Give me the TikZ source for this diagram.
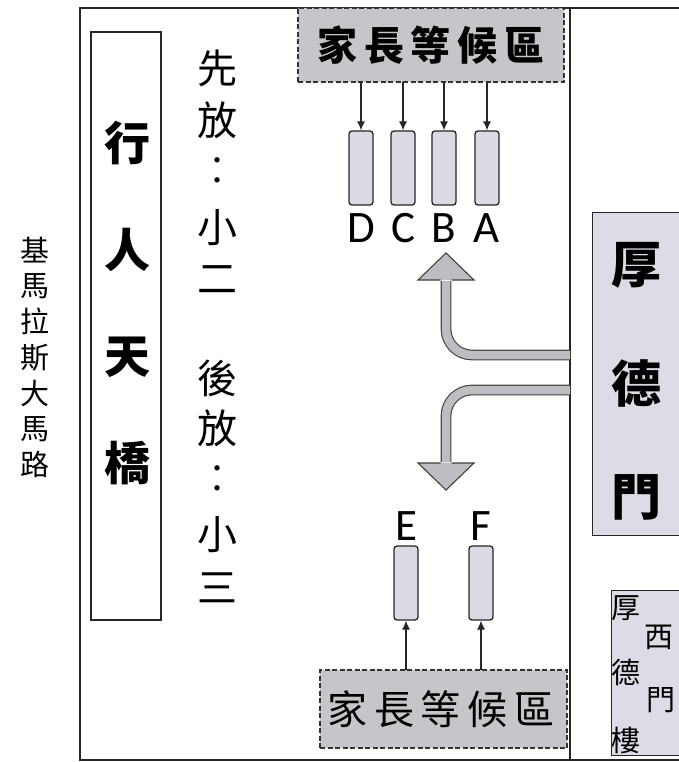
\documentclass[tikz,border=0pt]{standalone}
\usepackage{fontspec}
\newfontfamily\cjk{Noto Sans CJK TC}
\newfontfamily\lat{Carlito}
\definecolor{boxgray}{HTML}{C6C6CA}
\definecolor{barfill}{HTML}{DADAE4}
\definecolor{gatefill}{HTML}{DCDCE6}
\definecolor{arrowgray}{HTML}{BDBDC2}
\tikzset{
  frameline/.style={line width=1.4pt, draw=black!85},
  waitbox/.style={draw=black!80, dash pattern=on 5pt off 2.5pt, line width=1.4pt, fill=boxgray},
  bar/.style={draw=black!85, line width=1.3pt, fill=barfill, rounded corners=3pt, minimum width=24pt, minimum height=74pt, inner sep=0pt},
  thinarrow/.style={-{Latex[length=9pt,width=8pt]}, line width=1.1pt, draw=black!85},
  shaft/.style={draw=black!75, line width=1.1pt, double=arrowgray, double distance=8.5pt, rounded corners=26pt},
  headfill/.style={fill=arrowgray},
  headline/.style={draw=black!75, line width=1.1pt, line join=miter},
  ch/.style={inner sep=0pt, font=\cjk\fontsize{40}{40}\selectfont},
  bigch/.style={inner sep=0pt, font=\cjk\bfseries\fontsize{46}{46}\selectfont},
  roadch/.style={inner sep=0pt, font=\cjk\fontsize{29}{29}\selectfont},
  gatech/.style={inner sep=0pt, font=\cjk\bfseries\fontsize{50}{50}\selectfont},
  smallch/.style={inner sep=0pt, font=\cjk\fontsize{29}{29}\selectfont},
  letter/.style={inner sep=0pt, font=\lat\fontsize{45}{45}\selectfont},
}
\usetikzlibrary{arrows.meta}
\begin{document}
\begin{tikzpicture}[x=1pt,y=-1pt]
\useasboundingbox (0,0) rectangle (679,762);
% outer frame
\coordinate (fTL) at (80,8);
\coordinate (fTR) at (679,8);
\coordinate (fBL) at (80,760);
\coordinate (fBR) at (679,760);
\coordinate (vT) at (570,8);
\coordinate (vB) at (570,760);
\draw[frameline] (fTR) -- (fTL) -- (fBL) -- (fBR);
\draw[frameline] (vT) -- (vB);
% road label
\foreach \c [count=\i] in {基,馬,拉,斯,大,馬,路}
  \node[roadch] (road\i) at (35,{250+(\i-1)*35.8}) {\c};
% pedestrian bridge
\node[draw=black!85, line width=1.4pt, minimum width=70pt, minimum height=588pt, inner sep=0pt] (bridge) at (126,326) {};
\foreach \c/\y [count=\i] in {行/143,人/250,天/357,橋/463}
  \node[bigch] (br\i) at (127,\y) {\c};
% release order text
\foreach \c/\y [count=\i] in {先/68,放/120,︰/172,小/228,二/280,後/378,放/428,︰/480,小/535,三/588}
  \node[ch] (ord\i) at (217,\y) {\c};
% top waiting area
\node[waitbox, minimum width=266pt, minimum height=74pt, inner sep=0pt] (waitT) at (431,45) {};
\node[ch, font=\cjk\bfseries\fontsize{40}{40}\selectfont] (waitTt) at (431,45) {家\,長\,等\,候\,區};
% bars A-D
\foreach \n/\x in {D/361,C/403,B/444,A/487}{
  \node[bar] (bar\n) at (\x,168) {};
  \node[letter] (lab\n) at (\x,228) {\n};
  \draw[thinarrow] (\x,82) -- (bar\n.north);
}
% bottom waiting area
\node[waitbox, minimum width=247pt, minimum height=78pt, inner sep=0pt] (waitB) at (443.5,709) {};
\node[ch] (waitBt) at (441,709) {家\,長\,等\,候\,區};
% bars E,F
\foreach \n/\x in {E/406,F/481}{
  \node[bar] (bar\n) at (\x,583) {};
  \node[letter] (lab\n) at (\x,526) {\n};
  \draw[thinarrow] (\x,670) -- (bar\n.south);
}
% gate
\node[draw=black!85, line width=1.4pt, fill=gatefill, minimum width=100pt, minimum height=323pt, inner sep=0pt, anchor=north west] (gate) at (592,212) {};
\node[gatech] (g1) at (636,265) {厚};
\node[gatech] (g2) at (636,383) {德};
\node[gatech] (g3) at (636,497) {門};
% west gate building
\node[draw=black!85, line width=1.4pt, fill=gatefill, minimum width=80pt, minimum height=165pt, inner sep=0pt, anchor=north west] (west) at (611,590) {};
\node[smallch] (w1) at (626,608) {厚};
\node[smallch] (w2) at (659,637) {西};
\node[smallch] (w3) at (626,672) {德};
\node[smallch] (w4) at (661,700) {門};
\node[smallch] (w5) at (626,740) {樓};
% bent arrows
\coordinate (upS) at (570,355);
\coordinate (upC) at (446,355);
\coordinate (upE) at (446,281);
\draw[shaft] (upS) -- (upC) -- (upE);
\fill[headfill] (418,280) -- (446,253) -- (474,280) -- cycle;
\draw[headline] (440.5,280) -- (418,280) -- (446,253) -- (474,280) -- (451.5,280);
\coordinate (dnS) at (570,390);
\coordinate (dnC) at (446,390);
\coordinate (dnE) at (446,462);
\draw[shaft] (dnS) -- (dnC) -- (dnE);
\fill[headfill] (418,463) -- (446,490) -- (474,463) -- cycle;
\draw[headline] (440.5,463) -- (418,463) -- (446,490) -- (474,463) -- (451.5,463);
\end{tikzpicture}
\end{document}
